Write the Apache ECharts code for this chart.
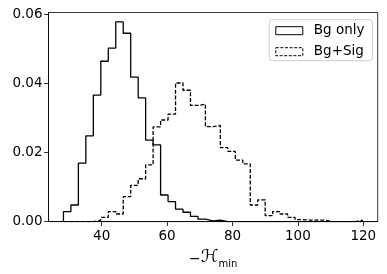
<!DOCTYPE html>
<html><head><meta charset="utf-8">
<script src="https://cdn.jsdelivr.net/npm/echarts@6/dist/echarts.min.js"></script>
<style>html,body{margin:0;padding:0;background:#fff;}#c{width:387px;height:274px;}</style>
</head><body><div id="c"></div>
<script>
// Histogram bins (shared): start and width, 40 bins
const binStart = 28.3;
const binWidth = 2.285;
// density values per bin
const bgOnly = [0.0029, 0.0048, 0.0169, 0.0248, 0.0366, 0.0464, 0.0502, 0.0578, 0.0545, 0.0418,
                0.0358, 0.0236, 0.0222, 0.0077, 0.0058, 0.0036, 0.0027, 0.0015, 0.0007, 0.0002,
                0.0004, 0, 0, 0, 0, 0, 0, 0, 0, 0,
                0, 0, 0, 0, 0, 0, 0, 0, 0, 0];
const bgSig = [0, 0, 0, 0, 0.0004, 0.0012, 0.0029, 0.0022, 0.0072, 0.0105,
               0.0124, 0.0164, 0.0274, 0.0294, 0.0311, 0.0401, 0.0380, 0.0336, 0.0340, 0.0275,
               0.0278, 0.0214, 0.0203, 0.0178, 0.0167, 0.0048, 0.0063, 0.0017, 0.0029, 0.0022,
               0.0012, 0.0006, 0.0004, 0.0004, 0.0004, 0, 0, 0, 0, 0.0004];
const seriesNames = ['Bg only', 'Bg+Sig'];
const xTicks = [40, 60, 80, 100, 120];
const yTicks = [0, 0.02, 0.04, 0.06];

function stepPoints(vals) {
  const pts = [[binStart, 0]];
  vals.forEach((v, i) => {
    const a = binStart + i * binWidth, b = a + binWidth;
    pts.push([a, v], [b, v]);
  });
  pts.push([binStart + vals.length * binWidth, 0]);
  return pts;
}

const FONT = 'DejaVu Sans';
const axisColor = '#000';
const chart = echarts.init(document.getElementById('c'), null, {renderer: 'canvas'});
chart.setOption({
  animation: false,
  textStyle: {fontFamily: FONT},
  grid: {left: 48.5, right: 9.3, top: 12.5, bottom: 48.7, show: true,
         borderColor: axisColor, borderWidth: 0.8, backgroundColor: 'transparent'},
  xAxis: {
    type: 'value', min: 23.73, max: 124.4,
    axisLine: {show: true, onZero: false, lineStyle: {color: axisColor, width: 0.8}},
    axisTick: {show: true, length: 4.5, customValues: xTicks, lineStyle: {color: axisColor, width: 0.8}},
    axisLabel: {customValues: xTicks, margin: 7.5, fontSize: 13.5, color: '#000', fontFamily: FONT},
    splitLine: {show: false},
    name: '{m|\u2212}{h|\u210B}{s|min}',
    nameLocation: 'middle', nameGap: 22,
    nameTextStyle: {
      color: '#000', fontFamily: FONT, fontSize: 14,
      rich: {
        m: {fontSize: 14, color: '#000', fontFamily: FONT, lineHeight: 18, verticalAlign: 'bottom'},
        h: {fontSize: 18, color: '#000', fontFamily: FONT, lineHeight: 18, verticalAlign: 'bottom'},
        s: {fontSize: 10, color: '#000', fontFamily: FONT, lineHeight: 10, verticalAlign: 'bottom', padding: [0, 0, -3, 0]}
      }
    }
  },
  yAxis: {
    type: 'value', min: 0, max: 0.0605,
    axisLine: {show: true, lineStyle: {color: axisColor, width: 0.8}},
    axisTick: {show: true, length: 4.5, customValues: yTicks, lineStyle: {color: axisColor, width: 0.8}},
    axisLabel: {customValues: yTicks, margin: 6, fontSize: 13.5, color: '#000', fontFamily: FONT,
                formatter: v => v.toFixed(2)},
    splitLine: {show: false}
  },
  legend: {
    orient: 'vertical', left: 269.3, top: 19.7,
    padding: [4, 8, 2, 6], itemWidth: 27, itemHeight: 8, itemGap: 7, icon: 'rect',
    backgroundColor: 'rgba(255,255,255,0.8)', borderColor: '#cccccc', borderWidth: 1, borderRadius: 3,
    textStyle: {fontSize: 13.5, color: '#000', fontFamily: FONT, padding: [0, 0, 0, 6]},
    data: [
      {name: seriesNames[0], itemStyle: {color: '#fff', borderColor: '#000', borderWidth: 1}},
      {name: seriesNames[1], itemStyle: {color: '#fff', borderColor: '#000', borderWidth: 1, borderType: [3, 1.6]}}
    ]
  },
  series: [
    {name: seriesNames[0], type: 'line', data: stepPoints(bgOnly), showSymbol: false, symbol: 'none',
     color: '#000', lineStyle: {color: '#000', width: 1.3}},
    {name: seriesNames[1], type: 'line', data: stepPoints(bgSig), showSymbol: false, symbol: 'none',
     color: '#000', lineStyle: {color: '#000', width: 1.3, type: [4, 1.8]}}
  ]
});
</script>
</body></html>
